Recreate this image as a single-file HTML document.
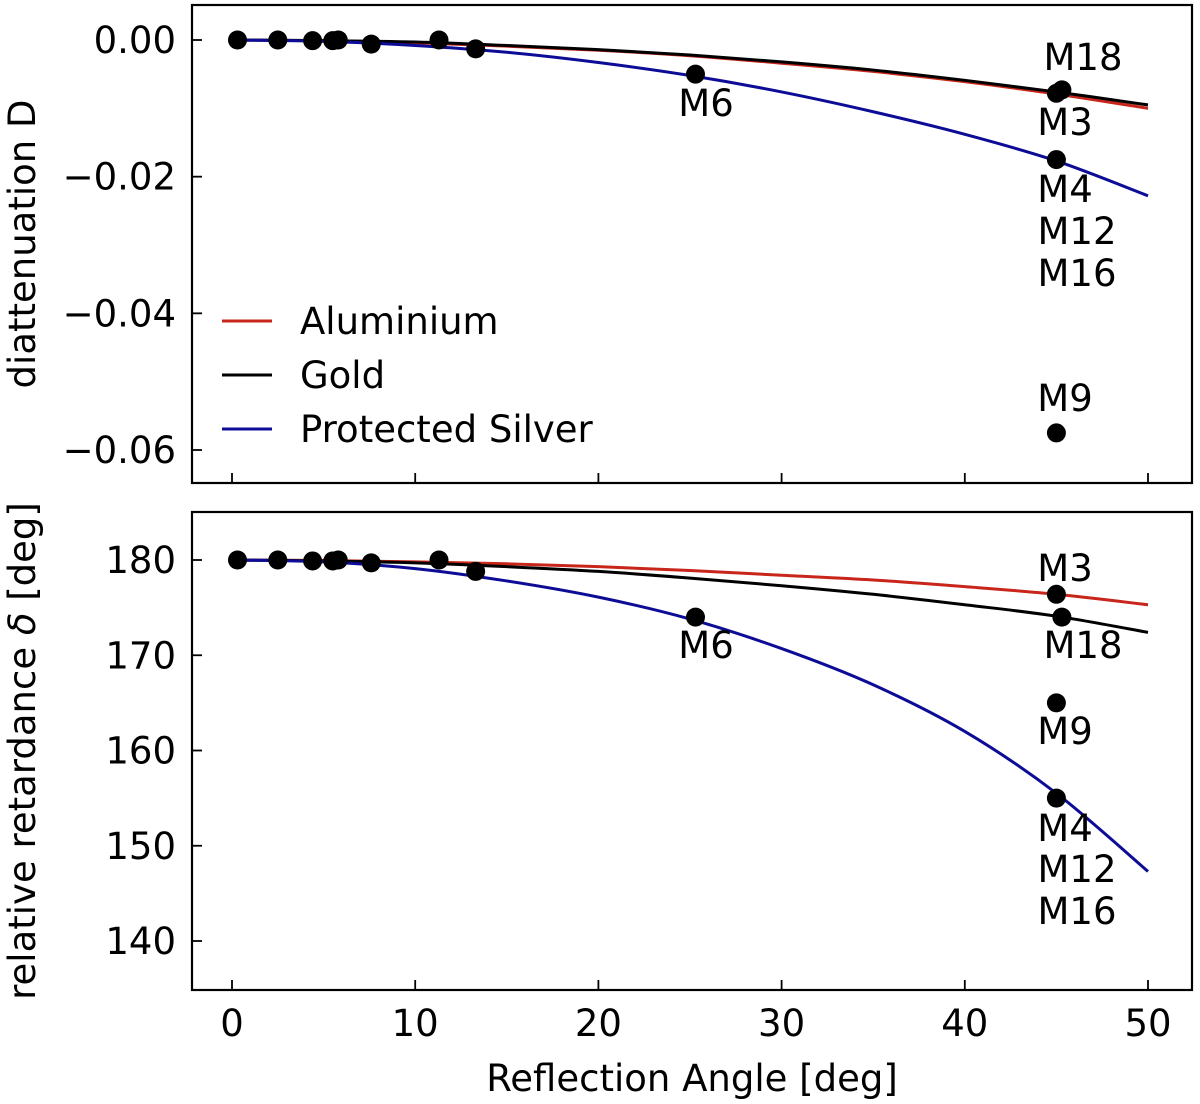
<!DOCTYPE html>
<html><head><meta charset="utf-8">
<style>
html,body{margin:0;padding:0;background:#fff;}
svg{display:block;font-family:"DejaVu Sans","Liberation Sans",sans-serif;}
</style></head>
<body>
<svg id="chart" width="1200" height="1104" viewBox="0 0 1200 1104" xmlns="http://www.w3.org/2000/svg"></svg>
<script>
// ---- data ----
const curveAngles = [0,5,10,15,20,25,30,35,40,45,50];
const dAluminium = [0,-0.0001,-0.0004,-0.0009,-0.0015,-0.0023,-0.0034,-0.0046,-0.0061,-0.0079,-0.0100];
const dGold      = [0,-0.0001,-0.0003,-0.0008,-0.0014,-0.0022,-0.0032,-0.0044,-0.0059,-0.0076,-0.0095];
const dSilver    = [0,-0.0002,-0.0008,-0.0018,-0.0033,-0.0052,-0.0076,-0.0105,-0.0138,-0.0177,-0.0228];
const rAluminium = [180,179.95,179.8,179.6,179.3,178.9,178.4,177.9,177.2,176.4,175.3];
const rGold      = [180,179.9,179.7,179.3,178.8,178.1,177.3,176.4,175.3,174.1,172.4];
const rSilver    = [180,179.8,179.1,177.8,176.1,173.8,170.7,166.9,162.0,155.5,147.3];
const mirrorAngles = [0.3,2.5,4.4,5.5,5.8,7.6,11.3,13.3,25.3,45.0,45.3,45.0,45.0];
const mirrorD      = [0,0,-0.0001,-0.0001,0,-0.0006,0,-0.0013,-0.0050,-0.0078,-0.0073,-0.0175,-0.0575];
const mirrorR      = [180,180,179.9,179.9,180,179.7,180,178.8,174.0,176.4,174.0,155.0,165.0];
const xTicks = [0,10,20,30,40,50];
const dTicks = [0,-0.02,-0.04,-0.06];
const dTickLabels = ["0.00","\u22120.02","\u22120.04","\u22120.06"];
const rTicks = [140,150,160,170,180];
const rTickLabels = ["140","150","160","170","180"];

const NS="http://www.w3.org/2000/svg";
const svg=document.getElementById('chart');
function mk(tag,attrs,parent){const e=document.createElementNS(NS,tag);for(const k in attrs)e.setAttribute(k,attrs[k]);(parent||svg).appendChild(e);return e;}

const L=192,R=1192;
const FS=37;
const X=v=>232+(v-0)*(1148-232)/50;
const T={top:5,bot:483};
const B={top:512,bot:990};
const YD=v=>40+(v-0)*(450-40)/(-0.06);
const YR=v=>560+(180-v)*(941-560)/40;

function smooth(xs,ys){
  const p=xs.map((x,i)=>[X(x),ys[i]]);
  let d=`M${p[0][0]},${p[0][1]}`;
  for(let i=0;i<p.length-1;i++){
    const p0=p[i-1]||p[i],p1=p[i],p2=p[i+1],p3=p[i+2]||p[i+1];
    const c1=[p1[0]+(p2[0]-p0[0])/6,p1[1]+(p2[1]-p0[1])/6];
    const c2=[p2[0]-(p3[0]-p1[0])/6,p2[1]-(p3[1]-p1[1])/6];
    d+=` C${c1[0]},${c1[1]} ${c2[0]},${c2[1]} ${p2[0]},${p2[1]}`;
  }
  return d;
}
function addText(x,y,s,anchor,size,parent){const t=mk('text',{x:x,y:y,'text-anchor':anchor||'middle','font-size':size||FS,fill:'#000'},parent);t.textContent=s;return t;}

// ---- top panel ----
const topG=mk('g',{});


const cols={al:'#c8261a',au:'#000000',ag:'#0c0c96'};
[[dAluminium,cols.al,'aluminium-d-line'],[dGold,cols.au,'gold-d-line'],[dSilver,cols.ag,'silver-d-line']].forEach(([arr,c,n])=>{
  const p=mk('path',{d:smooth(curveAngles,arr.map(YD)),fill:'none',stroke:c,'stroke-width':3},topG);
  
  
});
mirrorAngles.forEach((a,i)=>{
  const c=mk('circle',{cx:X(a),cy:YD(mirrorD[i]),r:9.5,fill:'#000'},topG);
  
  
});
// ---- bottom panel ----
const botG=mk('g',{});


[[rAluminium,cols.al,'aluminium-r-line'],[rGold,cols.au,'gold-r-line'],[rSilver,cols.ag,'silver-r-line']].forEach(([arr,c,n])=>{
  const p=mk('path',{d:smooth(curveAngles,arr.map(YR)),fill:'none',stroke:c,'stroke-width':3},botG);
  
  
});
mirrorAngles.forEach((a,i)=>{
  const c=mk('circle',{cx:X(a),cy:YR(mirrorR[i]),r:9.5,fill:'#000'},botG);
  
  
});

// ---- frames & ticks ----
[[T,topG],[B,botG]].forEach(([P,g])=>{
  const f=mk('rect',{x:L,y:P.top,width:R-L,height:P.bot-P.top,fill:'none',stroke:'#000','stroke-width':2.2},g);
  
  
  xTicks.forEach(v=>{
    const t=mk('line',{x1:X(v),x2:X(v),y1:P.bot,y2:P.bot-10,stroke:'#000','stroke-width':1.8},g);
    
    
  });
});
dTicks.forEach((v,i)=>{
  const t=mk('line',{x1:L,x2:L+10,y1:YD(v),y2:YD(v),stroke:'#000','stroke-width':1.8},topG);
  
  
  const l=addText(176,YD(v)+13,dTickLabels[i],'end',FS,topG);
  
  
});
rTicks.forEach((v,i)=>{
  const t=mk('line',{x1:L,x2:L+10,y1:YR(v),y2:YR(v),stroke:'#000','stroke-width':1.8},botG);
  
  
  const l=addText(176,YR(v)+13,rTickLabels[i],'end',FS,botG);
  
  
});
xTicks.forEach(v=>{
  const l=addText(X(v),1036,String(v),'middle',FS);
  
  
});

// ---- annotations ----
const ann=[[706,116,'M6'],[1083,70,'M18'],[1065,135,'M3'],[1065,202,'M4'],[1077,244,'M12'],[1077,286,'M16'],[1065,411,'M9'],
           [706,658,'M6'],[1065,581,'M3'],[1083,658,'M18'],[1065,744,'M9'],[1065,841,'M4'],[1077,882,'M12'],[1077,924,'M16']];
ann.forEach(([x,y,s])=>{
  const t=addText(x,y,s,'middle',FS);
  
  
});

// ---- legend ----
const leg=mk('g',{});


[['Aluminium',cols.al,321],['Gold',cols.au,375],['Protected Silver',cols.ag,429]].forEach(([s,c,y])=>{
  const ln=mk('line',{x1:222,x2:272,y1:y,y2:y,stroke:c,'stroke-width':3},leg);
  
  
  const t=addText(300,y+13,s,'start',FS,leg);
  
  
});

// ---- axis titles ----
const yt1=addText(0,0,'diattenuation D','middle',FS);
yt1.setAttribute('transform','translate(35,244) rotate(-90)');


const yt2=mk('text',{transform:'translate(35,751) rotate(-90)','text-anchor':'middle','font-size':FS,fill:'#000'});
yt2.innerHTML='relative retardance <tspan font-style="italic">δ</tspan> [deg]';


const xt=addText(692,1091,'Reflection Angle [deg]','middle',FS);


</script>
</body></html>
